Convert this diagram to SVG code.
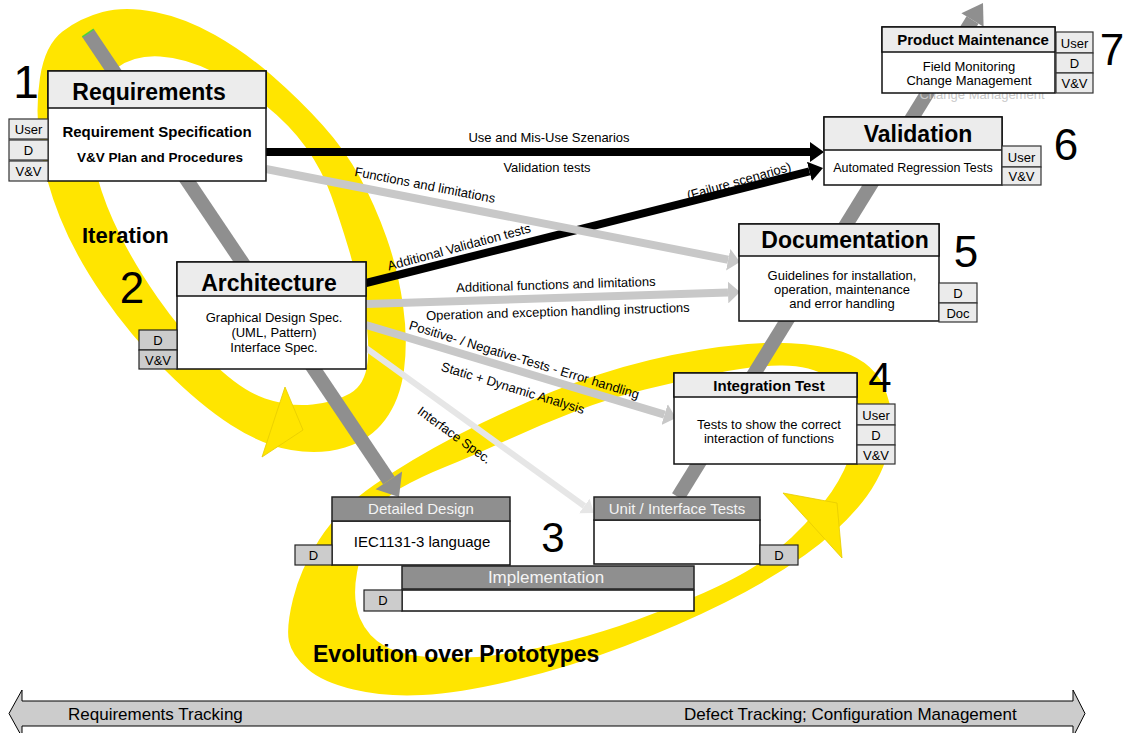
<svg xmlns="http://www.w3.org/2000/svg" width="1139" height="733" viewBox="0 0 1139 733">
<defs>
<style>
text { font-family: "Liberation Sans", Arial, Helvetica, sans-serif; fill:#000; }
.title { font-size:23px; font-weight:bold; text-anchor:middle; }
.sub { font-size:15px; font-weight:bold; text-anchor:middle; }
.body { font-size:13px; text-anchor:middle; }
.lbl { font-size:13px; text-anchor:middle; }
.num { font-size:44px; text-anchor:middle; }
.big { font-size:22px; font-weight:bold; }
.tagt { font-size:13px; text-anchor:middle; }
.box { fill:#fff; stroke:#111; stroke-width:1.5; }
.hdr { fill:#ececec; stroke:#111; stroke-width:1.5; }
.ghdr { fill:#8f8f8f; stroke:#222; stroke-width:1.5; }
.gtx { fill:#f4f4f4; font-size:15px; text-anchor:middle; }
.tag { fill:#ebebeb; stroke:#333; stroke-width:1.2; }
.tagd { fill:#cccccc; stroke:#222; stroke-width:1.2; }
.ring { fill:#ffe500; fill-rule:evenodd; }
.rhead { fill:#ffe500; stroke:#e6cc00; stroke-width:0.8; }
.bar { stroke:#8f8f8f; stroke-width:14; fill:none; }
.blk { stroke:#000; stroke-width:8; fill:none; }
.gry { stroke:#c8c8c8; stroke-width:8; fill:none; }
.lgt { stroke:#e6e6e6; stroke-width:6; fill:none; }
</style>
<marker id="mb" markerUnits="userSpaceOnUse" viewBox="0 0 14 20" markerWidth="14" markerHeight="20" refX="0" refY="10" orient="auto"><path d="M0,0 L14,10 L0,20 Z" fill="#000"/></marker>
<marker id="mg" markerUnits="userSpaceOnUse" viewBox="0 0 12 22" markerWidth="12" markerHeight="22" refX="0" refY="11" orient="auto"><path d="M0,0 L12,11 L0,22 Z" fill="#c8c8c8"/></marker>
<marker id="ml" markerUnits="userSpaceOnUse" viewBox="0 0 12 18" markerWidth="12" markerHeight="18" refX="0" refY="9" orient="auto"><path d="M0,0 L12,9 L0,18 Z" fill="#e6e6e6"/></marker>
</defs>
<rect width="1139" height="733" fill="#fff"/>

<g id="iteration-loop">
<path class="ring" d="M 40,77.5 Q 45,45 62.5,31.5 Q 80,18 102.5,12 Q 125,6 155,12 Q 185,18 215,35 Q 245,52 272.5,76 Q 300,100 322.5,125 Q 345,150 360,177.5 Q 375,205 386.5,237.5 Q 398,270 403,305 Q 408,340 404,370 Q 400,400 385,420 Q 370,440 345,447.5 Q 320,455 291,450 Q 262,445 231,425 Q 200,405 165,370 Q 130,335 102.5,295 Q 75,255 60,217.5 Q 45,180 40,145 Q 35,110 40,77.5 Z
M 95,115 Q 100,80 117.5,67.5 Q 135,55 160,56.5 Q 185,58 212.5,71.5 Q 240,85 265,105 Q 290,125 306,147.5 Q 322,170 331,195 Q 340,220 349,250 Q 358,280 364,310 Q 370,340 367.5,362.5 Q 365,385 350,393.5 Q 335,402 312.5,404.5 Q 290,407 265,398.5 Q 240,390 210,360 Q 180,330 157.5,297.5 Q 135,265 120,235 Q 105,205 97.5,177.5 Q 90,150 95,115 Z"/>
<polygon class="rhead" points="285,387 303,430 262,457"/>
<text class="big" x="82" y="243">Iteration</text>
</g>

<g id="evolution-loop">
<path class="ring" d="M 293,599 Q 300,570 319,540 Q 338,510 374,485 Q 410,460 455,436.5 Q 500,413 550,392.5 Q 600,372 650,360 Q 700,348 747.5,344 Q 795,340 832.5,349 Q 870,358 883,385 Q 896,412 890,443.5 Q 884,475 862,502.5 Q 840,530 805,555 Q 770,580 725,602.5 Q 680,625 625,646 Q 570,667 515,680 Q 460,693 422.5,695 Q 385,697 353.5,689.5 Q 322,682 307,668.5 Q 292,655 289,641.5 Q 286,628 293,599 Z
M 357,572.5 Q 362,545 371,522.5 Q 380,500 400,488.5 Q 420,477 445,467 Q 470,457 505,441 Q 540,425 575,411.5 Q 610,398 645,389.5 Q 680,381 715,373.5 Q 750,366 780,365.5 Q 810,365 829,377.5 Q 848,390 853,412.5 Q 858,435 849,458.5 Q 840,482 824,502 Q 808,522 791.5,537.5 Q 775,553 756,565.5 Q 737,578 703.5,593 Q 670,608 636.5,620 Q 603,632 570,640.5 Q 537,649 503.5,654 Q 470,659 436.5,657.5 Q 403,656 385.5,646.5 Q 368,637 360,618.5 Q 352,600 357,572.5 Z"/>
<polygon class="rhead" points="783,493 837,503 842,558"/>
<text class="big" x="313" y="662" style="font-size:23px">Evolution over Prototypes</text>
</g>

<g id="connectors">
<line class="bar" x1="88" y1="33" x2="388.8" y2="480.4"/>
<polygon points="399,497 402.1,471.5 375.5,489.3" fill="#8f8f8f"/>
<line x1="82.2" y1="36.9" x2="93.8" y2="29.1" stroke="#4cd43c" stroke-width="1.5"/>
<line class="bar" x1="678" y1="497" x2="972.5" y2="20"/>
<polygon points="983,3 983.6,26.8 961.4,13.2" fill="#8f8f8f"/>

<text class="lbl" x="549" y="142">Use and Mis-Use Szenarios</text>
<text class="lbl" x="547" y="172">Validation tests</text>
<text class="lbl" transform="translate(460.2,251.3) rotate(-15)">Additional Validation tests</text>
<text class="lbl" transform="translate(740.2,185.3) rotate(-16)">(Failure scenarios)</text>
<text class="lbl" transform="translate(424.1,189.4) rotate(11)">Functions and limitations</text>
<text class="lbl" transform="translate(556,289) rotate(-1.8)">Additional functions and limitations</text>
<text class="lbl" transform="translate(558,316) rotate(-1.8)">Operation and exception handling instructions</text>
<text class="lbl" transform="translate(523,364) rotate(17)">Positive- / Negative-Tests - Error handling</text>
<text class="lbl" transform="translate(511.7,392.3) rotate(17)">Static + Dynamic Analysis</text>
<text class="lbl" transform="translate(451.9,438.6) rotate(36)">Interface Spec.</text>

<line class="blk" x1="262" y1="152" x2="810" y2="152" marker-end="url(#mb)"/>
<line class="blk" x1="366" y1="283" x2="809.4" y2="171.4" marker-end="url(#mb)"/>
<line class="gry" x1="266" y1="169" x2="728.2" y2="259.7" marker-end="url(#mg)"/>
<line class="gry" x1="366" y1="304" x2="728" y2="292.4" marker-end="url(#mg)"/>
<line class="gry" x1="366" y1="325" x2="664.5" y2="414.6" marker-end="url(#mg)"/>
<line class="lgt" x1="366" y1="348" x2="584.3" y2="506" marker-end="url(#ml)"/>
</g>

<g id="requirements">
<rect class="box" x="48" y="71" width="218" height="110"/>
<rect class="hdr" x="48" y="71" width="218" height="37"/>
<text class="title" x="149" y="100">Requirements</text>
<text class="sub" x="157" y="137">Requirement Specification</text>
<text class="sub" x="160" y="162" style="font-size:13.5px">V&amp;V Plan and Procedures</text>
<rect class="tag" x="9" y="119" width="39" height="20"/><text class="tagt" x="28.5" y="134">User</text>
<rect class="tag" x="9" y="140" width="39" height="20"/><text class="tagt" x="28.5" y="155">D</text>
<rect class="tag" x="9" y="161" width="39" height="20"/><text class="tagt" x="28.5" y="176">V&amp;V</text>
<text class="num" x="26" y="98" style="font-size:46px">1</text>
</g>

<g id="architecture">
<rect class="box" x="177" y="262" width="189" height="107"/>
<rect class="hdr" x="177" y="262" width="189" height="34"/>
<text class="title" x="269" y="291">Architecture</text>
<text class="body" x="274" y="322">Graphical Design Spec.</text>
<text class="body" x="274" y="337">(UML, Pattern)</text>
<text class="body" x="274" y="352">Interface Spec.</text>
<rect class="tagd" x="139" y="330" width="38" height="20"/><text class="tagt" x="158" y="345">D</text>
<rect class="tagd" x="139" y="350" width="38" height="19"/><text class="tagt" x="158" y="364.5">V&amp;V</text>
<text class="num" x="132" y="303">2</text>
</g>

<g id="product-maintenance">
<text class="body" x="982" y="98.5" style="fill:#c8c8c8">Change Management</text>
<rect class="box" x="882" y="27" width="173" height="66"/>
<rect class="hdr" x="882" y="27" width="173" height="25"/>
<text class="sub" x="973" y="45">Product Maintenance</text>
<text class="body" x="969" y="70.5">Field Monitoring</text>
<text class="body" x="969" y="85">Change Management</text>
<rect class="tag" x="1056" y="32" width="37" height="21"/><text class="tagt" x="1074.5" y="47.5">User</text>
<rect class="tag" x="1056" y="53" width="37" height="20"/><text class="tagt" x="1074.5" y="68">D</text>
<rect class="tag" x="1056" y="73" width="37" height="20"/><text class="tagt" x="1074.5" y="88">V&amp;V</text>
<text class="num" x="1112" y="65">7</text>
</g>

<g id="validation">
<rect class="box" x="824" y="117" width="178" height="68"/>
<rect class="hdr" x="824" y="117" width="178" height="33"/>
<text class="title" x="918" y="142">Validation</text>
<text class="body" x="913" y="172" style="font-size:12.5px">Automated Regression Tests</text>
<rect class="tag" x="1002" y="146" width="39" height="21"/><text class="tagt" x="1021.5" y="161.5">User</text>
<rect class="tag" x="1002" y="167" width="39" height="18"/><text class="tagt" x="1021.5" y="181">V&amp;V</text>
<text class="num" x="1066" y="160">6</text>
</g>

<g id="documentation">
<rect class="box" x="739" y="224" width="200" height="97"/>
<rect class="hdr" x="739" y="224" width="200" height="32"/>
<text class="title" x="845" y="248">Documentation</text>
<text class="body" x="842" y="280">Guidelines for installation,</text>
<text class="body" x="842" y="294">operation, maintenance</text>
<text class="body" x="842" y="308">and error handling</text>
<rect class="tag" x="939" y="283" width="38" height="20"/><text class="tagt" x="958" y="298">D</text>
<rect class="tag" x="939" y="303" width="38" height="19"/><text class="tagt" x="958" y="317.5">Doc</text>
<text class="num" x="966" y="267">5</text>
</g>

<g id="integration-test">
<rect class="box" x="674" y="373" width="183" height="91"/>
<rect class="hdr" x="674" y="373" width="183" height="24"/>
<text class="sub" x="769" y="391">Integration Test</text>
<text class="body" x="769" y="428.5">Tests to show the correct</text>
<text class="body" x="769" y="442.5">interaction of functions</text>
<rect class="tag" x="857" y="404" width="38" height="21"/><text class="tagt" x="876" y="419.5">User</text>
<rect class="tag" x="857" y="425" width="38" height="20"/><text class="tagt" x="876" y="440">D</text>
<rect class="tag" x="857" y="445" width="38" height="19"/><text class="tagt" x="876" y="459.5">V&amp;V</text>
<text class="num" x="880" y="392" style="font-size:42px">4</text>
</g>

<g id="detailed-design">
<rect class="box" x="332" y="521" width="178" height="44"/>
<rect class="ghdr" x="332" y="497" width="178" height="24"/>
<text class="gtx" x="421" y="514">Detailed Design</text>
<text class="body" x="422" y="547" style="font-size:15px">IEC1131-3 language</text>
<rect class="tagd" x="295" y="545" width="37" height="20"/><text class="tagt" x="313.5" y="560">D</text>
</g>

<g id="unit-interface-tests">
<rect class="box" x="594" y="520" width="166" height="44"/>
<rect class="ghdr" x="594" y="497" width="166" height="23"/>
<text class="gtx" x="677" y="514">Unit / Interface Tests</text>
<rect class="tagd" x="760" y="545" width="38" height="20"/><text class="tagt" x="779" y="560">D</text>
</g>

<g id="implementation">
<rect class="box" x="402" y="590" width="292" height="21"/>
<rect class="ghdr" x="402" y="566" width="292" height="23"/>
<text class="gtx" x="546" y="583" style="font-size:17px">Implementation</text>
<rect class="tagd" x="364" y="590" width="38" height="21"/><text class="tagt" x="383" y="605">D</text>
<text class="num" x="553" y="552" style="font-size:42px">3</text>
</g>

<g id="tracking">
<path d="M9,713.5 L22,690 L22,701 L1073,701 L1073,690 L1085,713.5 L1073,737 L1073,726 L22,726 L22,737 Z" fill="#cccccc" stroke="#000" stroke-width="1"/>
<text x="68" y="720" style="font-size:17px">Requirements Tracking</text>
<text x="684" y="720" style="font-size:17px">Defect Tracking; Configuration Management</text>
</g>
</svg>
